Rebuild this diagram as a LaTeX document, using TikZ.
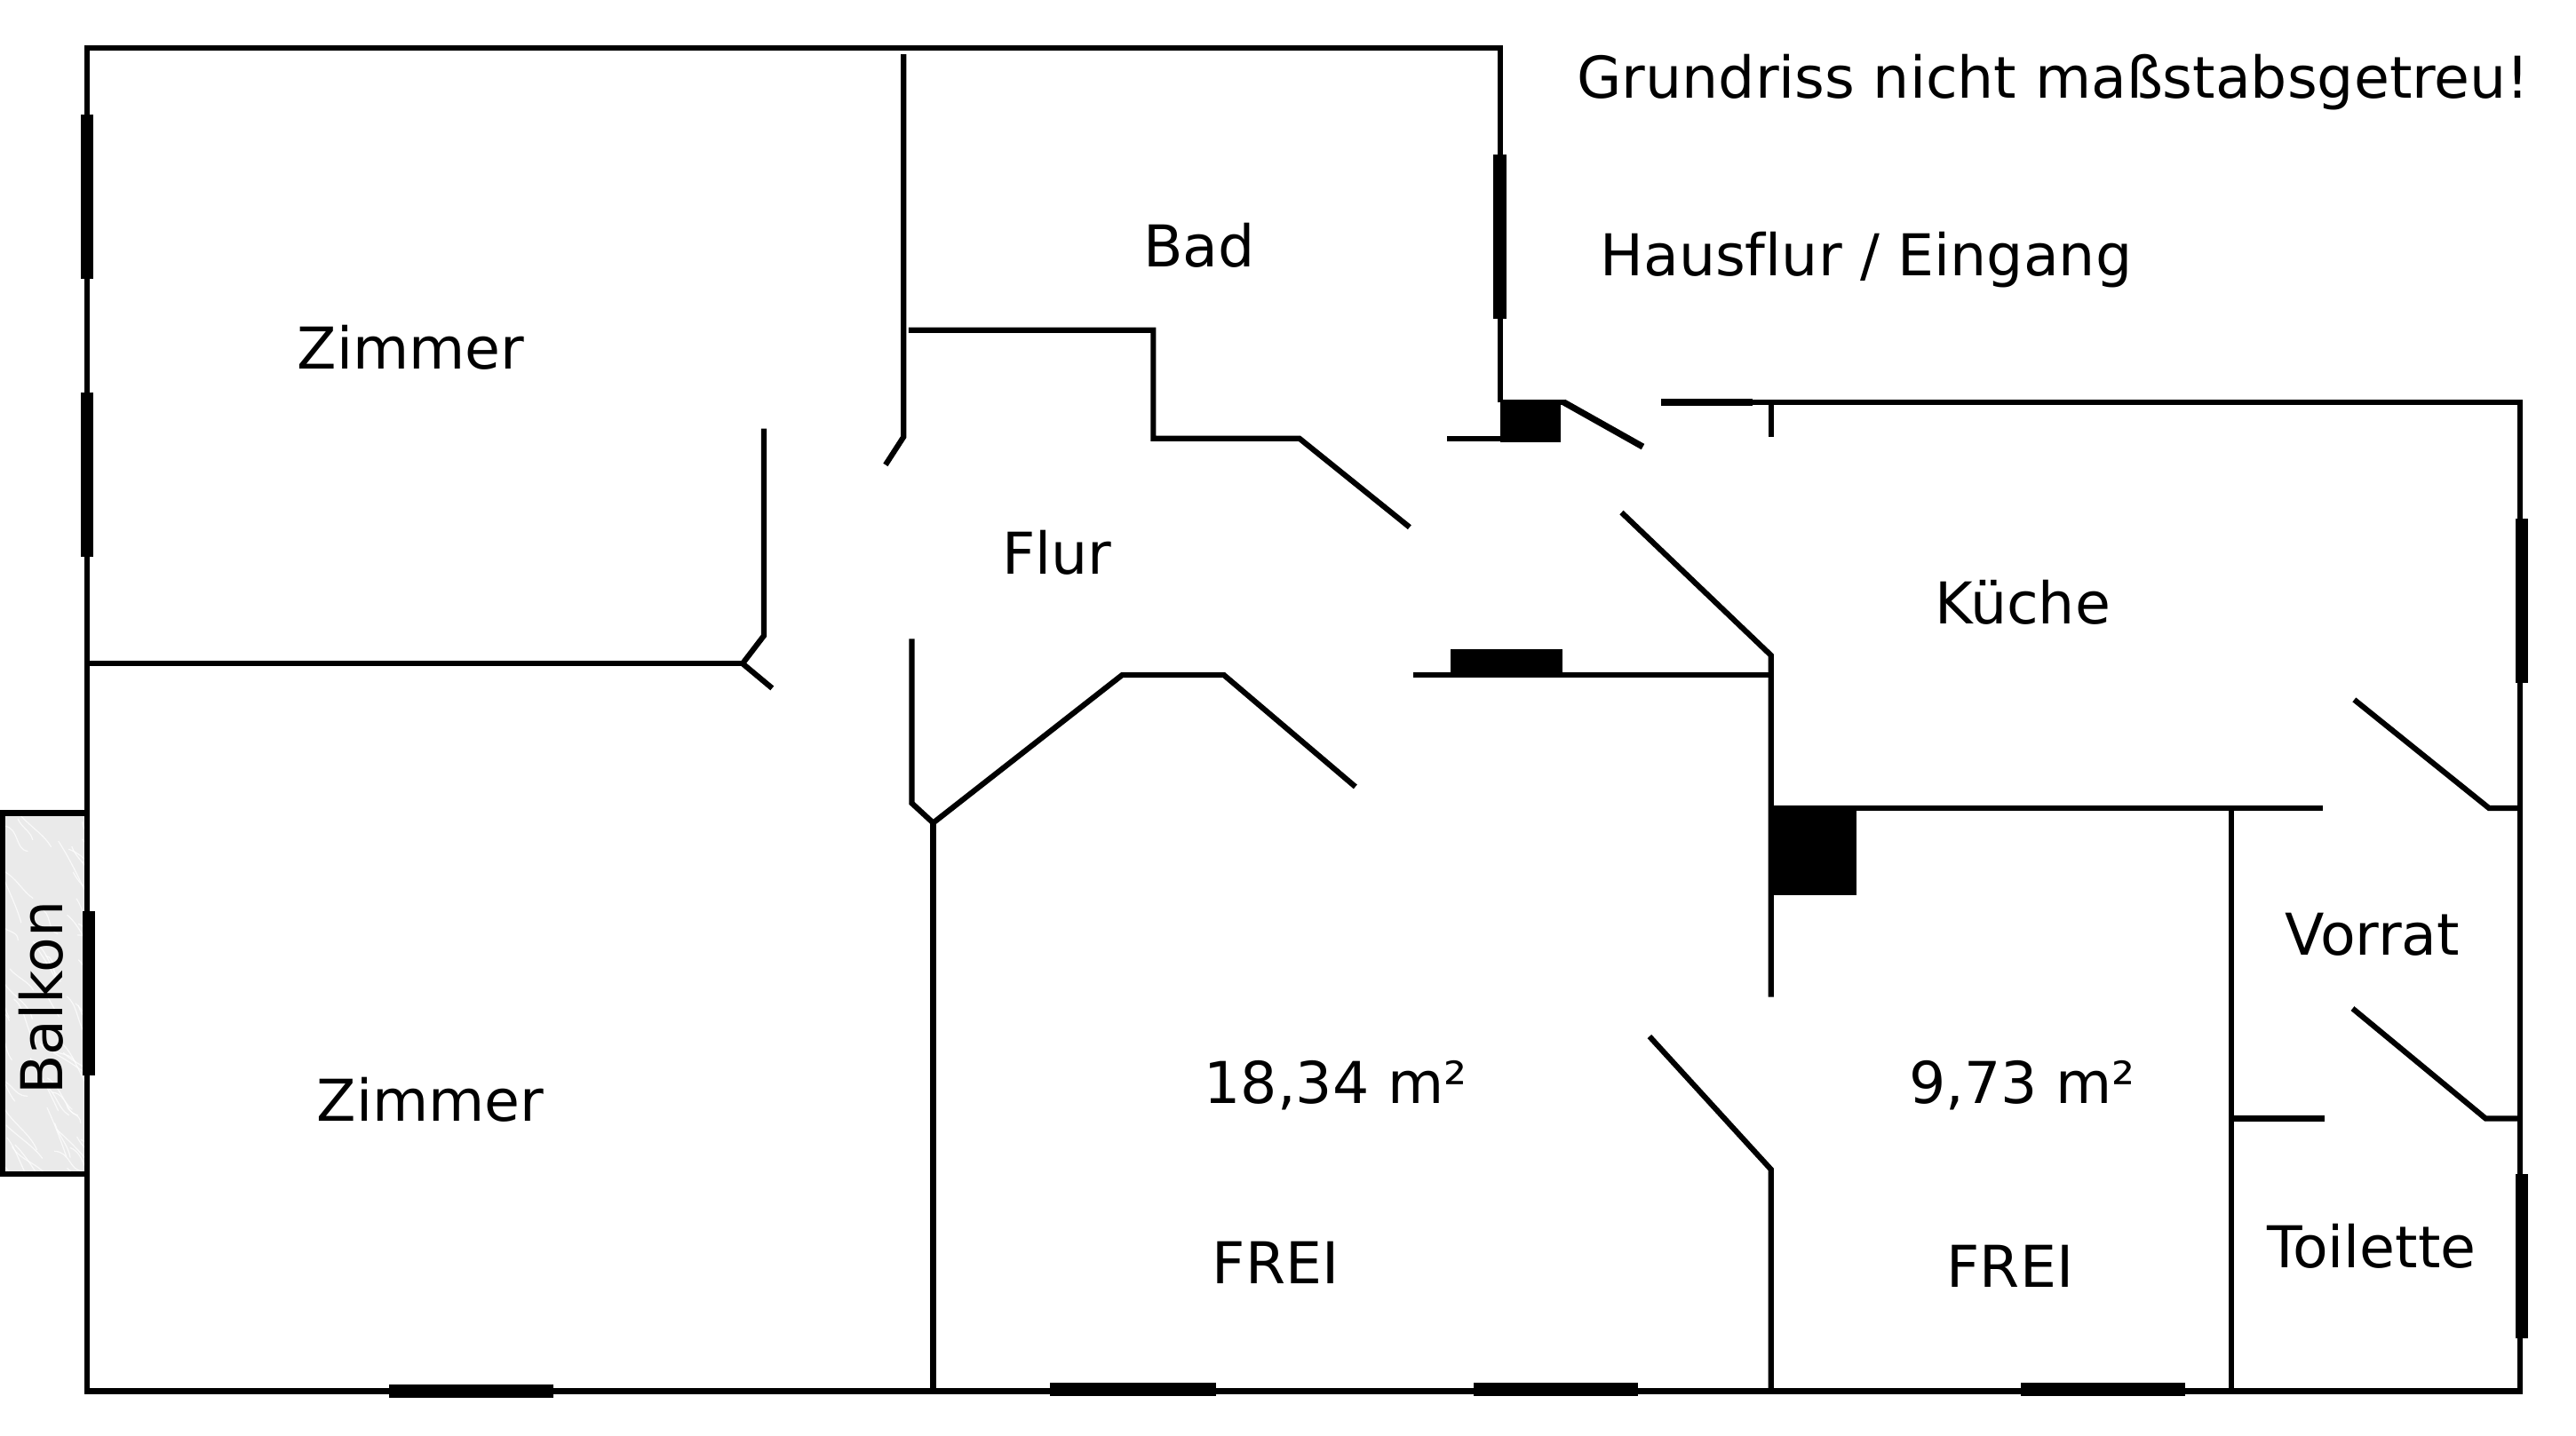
\documentclass[tikz,border=0pt]{standalone}
\usepackage{fontspec}
\setmainfont[Ligatures=CommonOff]{DejaVu Sans}
\definecolor{marble}{HTML}{EAEAEA}
\tikzset{
  wall/.style={line width=3.1pt,line cap=butt,line join=miter},
  thickwall/.style={line width=4pt,line cap=butt},
  windowbar/.style={line width=7.2pt,line cap=butt},
  solidblock/.style={fill=black,draw=none},
  vein/.style={white,line width=0.6pt,line cap=round},
  roomlabel/.style={anchor=base west,inner sep=0pt,outer sep=0pt,yshift=-0.6pt,font=\fontsize{32.45}{38}\selectfont},
}
\begin{document}
\begin{tikzpicture}[x=0.92474pt,y=-0.92474pt]
\useasboundingbox (0,0) rectangle (1568,873.8);
\fill[white] (0,0) rectangle (1568,873.8);
% balcony
\fill[marble] (1.5,495) rectangle (53,715);
\begin{scope}
\clip (2,496) rectangle (53,714);
\pgfmathsetseed{4711}
\foreach \i in {1,...,70}{
  \pgfmathsetmacro{\vx}{rnd*70-15}
  \pgfmathsetmacro{\vy}{495+rnd*220}
  \pgfmathsetmacro{\vdx}{8+rnd*14}
  \pgfmathsetmacro{\vdy}{10+rnd*22}
  \pgfmathsetmacro{\vwob}{rnd*8-4}
  \draw[vein,opacity=.75] (\vx,\vy) .. controls (\vx+\vdx*0.4+\vwob,\vy+\vdy*0.3-\vwob) and (\vx+\vdx*0.7-\vwob,\vy+\vdy*0.7+\vwob) .. (\vx+\vdx,\vy+\vdy);
}
\end{scope}
\draw[wall] (53,495) -- (1.3,495) -- (1.3,715) -- (53,715);
% outer walls
\draw[wall] (913,245) -- (913,29) -- (53,29) -- (53,847) -- (1534,847) -- (1534,245) -- (1067,245);
\draw[thickwall] (1011,245) -- (1067,245);
% interior walls
\draw[wall] (550,33) -- (550,266) -- (539,283);
\draw[wall] (553,201) -- (702,201) -- (702,267) -- (791,267) -- (858,321);
\draw[wall] (881,267) -- (913,267);
\draw[wall] (913,245) -- (953,245);
\draw[line width=3.6pt] (952,245) -- (1000,272);
\draw[wall] (1078,245) -- (1078,266);
\draw[wall] (465,261) -- (465,387) -- (452,404) -- (470,419);
\draw[wall] (53,404) -- (452,404);
\draw[wall] (555,389) -- (555,489) -- (568,501) -- (683,411) -- (745,411) -- (825,479);
\draw[wall] (568,501) -- (568,847);
\draw[wall] (860,411) -- (1078,411);
\draw[wall] (987,312) -- (1078,399) -- (1078,607);
\draw[wall] (1078,492) -- (1414,492);
\draw[wall] (1358,492) -- (1358,847);
\draw[wall] (1433,426) -- (1515,492) -- (1534,492);
\draw[wall] (1432,614) -- (1513,681) -- (1534,681);
\draw[wall] (1358,681) -- (1415,681);
\draw[wall] (1004,631) -- (1078,712) -- (1078,847);
% blocks
\fill[solidblock] (913,244) rectangle (950,269);
\fill[solidblock] (883,395) rectangle (951,411);
\fill[solidblock] (1078,491) rectangle (1130,545);
% windows
\draw[windowbar] (53,70) -- (53,170);
\draw[windowbar] (53,239) -- (53,339);
\draw[windowbar] (54,555) -- (54,655);
\draw[windowbar] (913,94) -- (913,194);
\draw[windowbar] (1535,316) -- (1535,416);
\draw[windowbar] (1535,715) -- (1535,815);
\draw[windowbar] (237,847) -- (337,847);
\draw[windowbar] (639,846) -- (740,846);
\draw[windowbar] (897,846) -- (997,846);
\draw[windowbar] (1230,846) -- (1330,846);
% labels
\node[roomlabel] (note) at (960,59) {Grundriss nicht maßstabsgetreu!};
\node[roomlabel] (bad) at (696,162) {Bad};
\node[roomlabel] (hausflur) at (974,167) {Hausflur / Eingang};
\node[roomlabel] (zimmera) at (181,224) {Zimmer};
\node[roomlabel] (flur) at (610,349) {Flur};
\node[roomlabel] (kueche) at (1178,379) {Küche};
\node[roomlabel] (vorrat) at (1391,581) {Vorrat};
\node[roomlabel] (flaechea) at (733,671) {18,34 m²};
\node[roomlabel] (flaecheb) at (1162,671) {9,73 m²};
\node[roomlabel] (zimmerb) at (193,682) {Zimmer};
\node[roomlabel] (freia) at (738,781) {FREI};
\node[roomlabel] (freib) at (1185,783) {FREI};
\node[roomlabel] (toilette) at (1380,771) {Toilette};
\node[roomlabel,rotate=90] (balkon) at (38,666) {Balkon};
\end{tikzpicture}
\end{document}
